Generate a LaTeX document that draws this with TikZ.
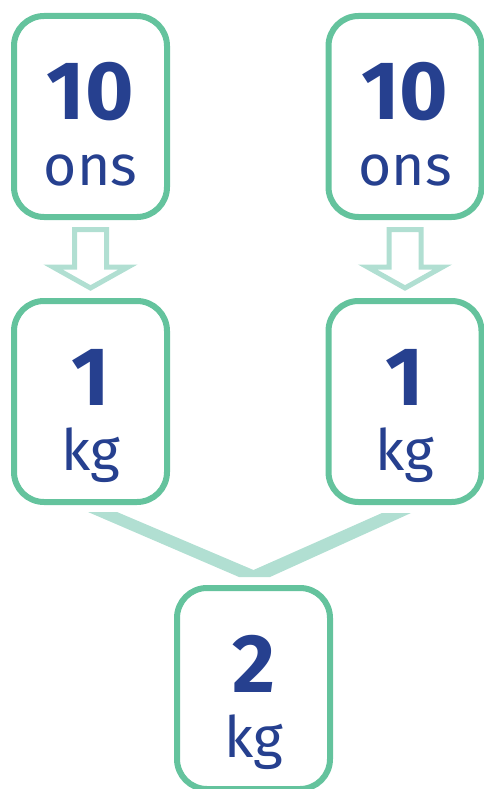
\documentclass[tikz,border=0pt]{standalone}
\usepackage{fontspec}
\setmainfont{Fira Sans}
\definecolor{boxgreen}{HTML}{64C39D}
\definecolor{arrowgreen}{HTML}{B1DFD2}
\definecolor{textblue}{HTML}{26408F}

\begin{document}
\begin{tikzpicture}[
  x=1pt,
  y=-1pt,
  every node/.style={textblue},
  unit/.style={draw=boxgreen, line width=6pt, rounded corners=30pt,
    minimum width=153pt, minimum height=201pt, inner sep=0pt, outer sep=0pt},
  amount/.style={font=\bfseries\fontsize{83}{83}\selectfont, anchor=base, inner sep=0pt},
  word/.style={font=\fontsize{57}{57}\selectfont, anchor=base, inner sep=0pt},
  hollow/.style={draw=arrowgreen, line width=5pt, line join=miter},
  band/.style={fill=arrowgreen}
]
  % ---- page size of the reference ---------------------------------------
  \useasboundingbox (0,0) rectangle (483,789);

  % ---- the five boxes ---------------------------------------------------
  \node[unit] (tl) at (90.5,116.5) {};
  \node[unit] (tr) at (405,116.5) {};
  \node[unit] (ml) at (90.5,401.5) {};
  \node[unit] (mr) at (405,401.5) {};
  \node[unit] (bm) at (253.5,688.5) {};

  % ---- numbers and units ------------------------------------------------
  \node[amount] (tl-num) at ([yshift=-3.5pt]tl.center) {10};
  \node[word]   (tl-unit) at ([yshift=-68.5pt]tl.center) {ons};
  \node[amount] (tr-num) at ([yshift=-3.5pt]tr.center) {10};
  \node[word]   (tr-unit) at ([yshift=-68.5pt]tr.center) {ons};
  \node[amount] (ml-num) at ([yshift=-3.5pt]ml.center) {1};
  \node[word]   (ml-unit) at ([yshift=-68.5pt]ml.center) {kg};
  \node[amount] (mr-num) at ([yshift=-3.5pt]mr.center) {1};
  \node[word]   (mr-unit) at ([yshift=-68.5pt]mr.center) {kg};
  \node[amount] (bm-num) at ([yshift=-3.5pt]bm.center) {2};
  \node[word]   (bm-unit) at ([yshift=-68.5pt]bm.center) {kg};

  % ---- hollow arrows: ons to kg -----------------------------------------
  \foreach \n in {tl,tr}
    \draw[hollow] ([yshift=-12.5pt]\n.south) ++(-16,0) -- ++(32,0)
      -- ++(0,37.5) -- ++(21.5,0) -- ++(-37.5,21) -- ++(-37.5,-21)
      -- ++(21.5,0) -- cycle;

  % ---- the two kilos joined ---------------------------------------------
  \fill[band] ([xshift=-2.5pt,yshift=-10pt]ml.south)
    -- ([xshift=26.5pt,yshift=-10pt]ml.south)
    -- ([yshift=18pt]bm.north)
    -- ([xshift=-23pt,yshift=-11pt]mr.south)
    -- ([xshift=6pt,yshift=-11pt]mr.south)
    -- ([xshift=16.5pt,yshift=11pt]bm.north)
    -- ([xshift=-14.5pt,yshift=11pt]bm.north) -- cycle;
\end{tikzpicture}
\end{document}
